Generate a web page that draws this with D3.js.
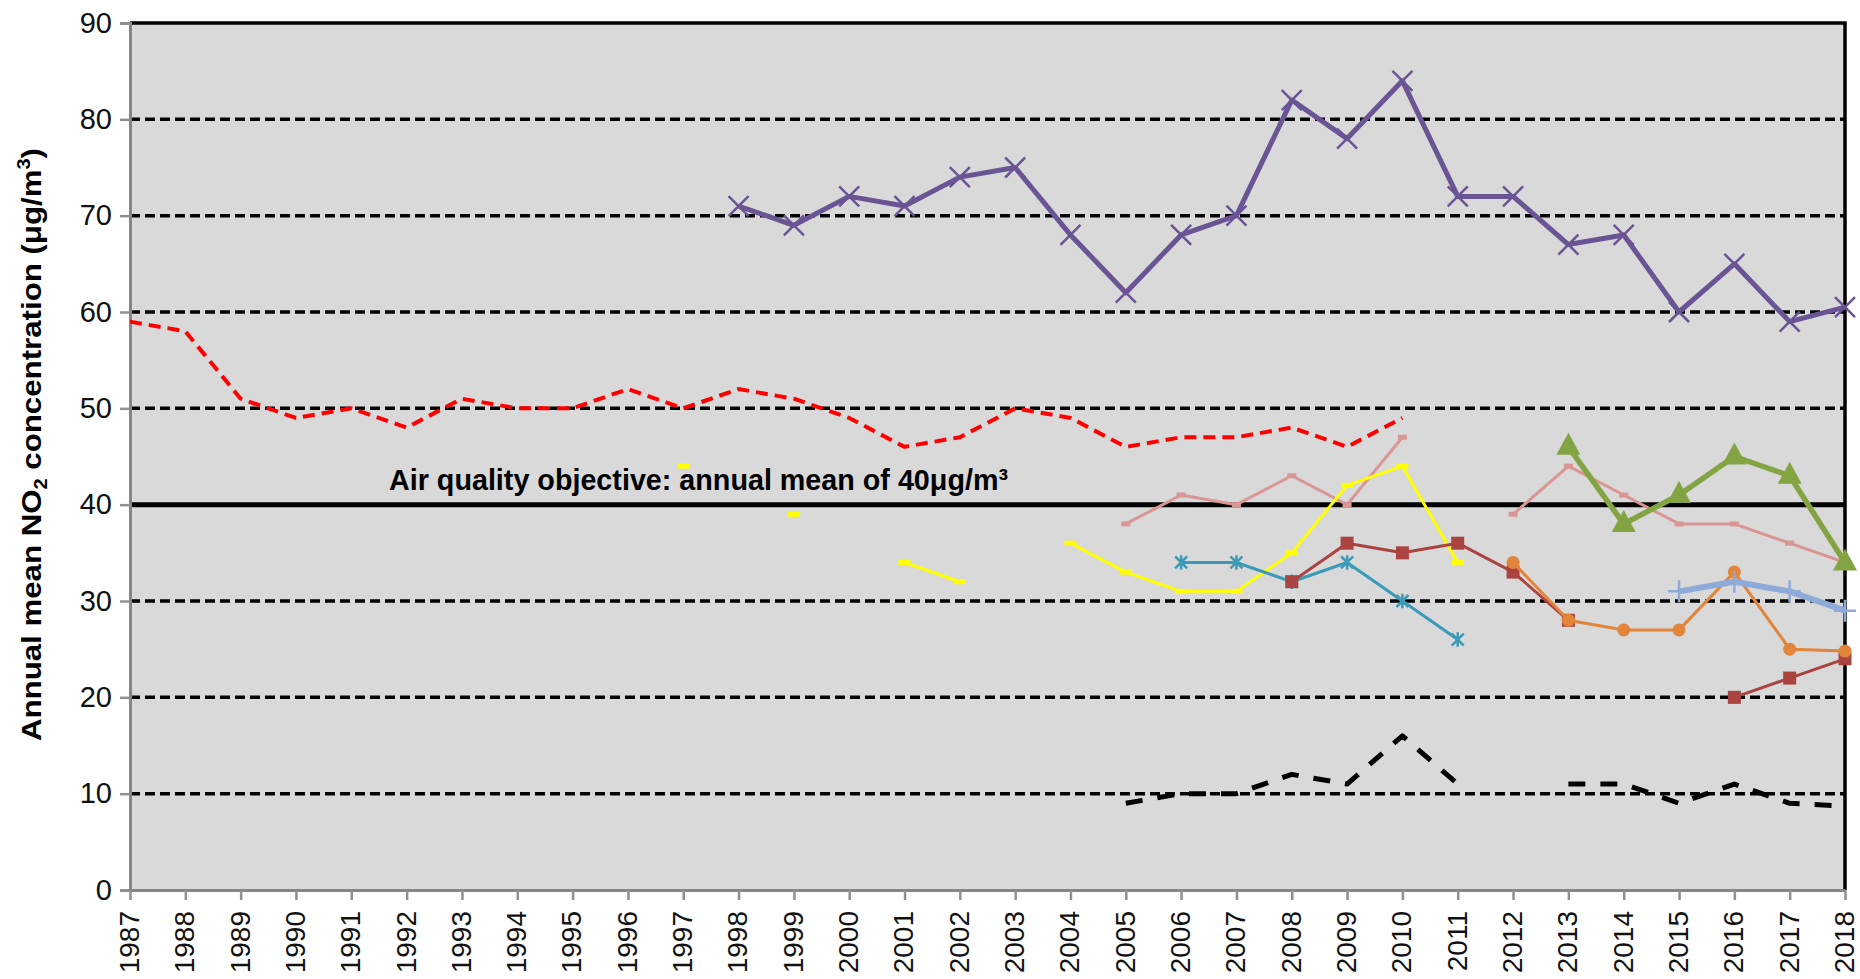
<!DOCTYPE html>
<html>
<head>
<meta charset="utf-8">
<script src="https://cdn.jsdelivr.net/npm/d3@7"></script>
<style>
  html, body { margin: 0; padding: 0; background: #fff; }
  svg { display: block; font-family: "Liberation Sans", Arial, sans-serif; }
</style>
</head>
<body>
<div id="graf"></div>
<script>
// years on the x axis
const years = [1987, 1988, 1989, 1990, 1991, 1992, 1993, 1994, 1995, 1996, 1997, 1998, 1999, 2000, 2001, 2002,
  2003, 2004, 2005, 2006, 2007, 2008, 2009, 2010, 2011, 2012, 2013, 2014, 2015, 2016, 2017, 2018]
const yTicks = [0, 10, 20, 30, 40, 50, 60, 70, 80, 90]
const objective = 40
const objectiveLabel = "Air quality objective: annual mean of 40μg/m³"

// one value per year, null = no measurement
const redDashed = [59, 58, 51, 49, 50, 48, 51, 50, 50, 52, 50, 52, 51, 49, 46, 47, 50, 49, 46, 47, 47, 48, 46, 49,
  null, null, null, null, null, null, null, null]
const purple = [null, null, null, null, null, null, null, null, null, null, null,
  71, 69, 72, 71, 74, 75, 68, 62, 68, 70, 82, 78, 84, 72, 72, 67, 68, 60, 65, 59, 60.5]
const yellow = [null, null, null, null, null, null, null, null, null, null,
  44, null, 39, null, 34, 32, null, 36, 33, 31, 31, 35, 42, 44, 34,
  null, null, null, null, null, null, null]
const pink = [null, null, null, null, null, null, null, null, null, null, null, null, null, null, null, null, null, null,
  38, 41, 40, 43, 40, 47, null, 39, 44, 41, 38, 38, 36, 34]
const teal = [null, null, null, null, null, null, null, null, null, null, null, null, null, null, null, null, null, null, null,
  34, 34, 32, 34, 30, 26, null, null, null, null, null, null, null]
const darkRed = [null, null, null, null, null, null, null, null, null, null, null, null, null, null, null, null, null, null, null, null, null,
  32, 36, 35, 36, 33, 28, null, null, 20, 22, 24]
const orange = [null, null, null, null, null, null, null, null, null, null, null, null, null, null, null, null, null, null, null, null, null, null, null, null, null,
  34, 28, 27, 27, 33, 25, 24.8]
const green = [null, null, null, null, null, null, null, null, null, null, null, null, null, null, null, null, null, null, null, null, null, null, null, null, null, null,
  46, 38, 41, 45, 43, 34]
const lightBlue = [null, null, null, null, null, null, null, null, null, null, null, null, null, null, null, null, null, null, null, null, null, null, null, null, null, null, null, null,
  31, 32, 31, 29]
const blackDashed = [null, null, null, null, null, null, null, null, null, null, null, null, null, null, null, null, null, null,
  9, 10, 10, 12, 11, 16, 11, null, 11, 11, 9, 11, 9, 8.7]

const width = 1860
const height = 979
const margin = ({top: 23, right: 15, bottom: 89, left: 130})

const x = d3.scaleLinear()
    .domain([d3.min(years), d3.max(years)])
    .range([margin.left, width - margin.right])

const y = d3.scaleLinear()
    .domain([0, 90])
    .range([height - margin.bottom, margin.top])

// marker shapes
const markX = s => `M${-s},${-s}L${s},${s}M${-s},${s}L${s},${-s}`
const markPlus = s => `M${-s},0L${s},0M0,${-s}L0,${s}`
const markStar = s => `M${-s},${-s}L${s},${s}M${-s},${s}L${s},${-s}M0,${-s * 1.2}L0,${s * 1.2}`

const series = [
  {values: redDashed, color: "#ff0000", width: 4, dash: "12,7"},
  {values: pink, color: "#d99694", width: 3, marker: "dash", mw: 9, mh: 5},
  {values: yellow, color: "#ffff00", width: 3, marker: "dash", mw: 12, mh: 5},
  {values: teal, color: "#3a9ab8", width: 3, marker: "star"},
  {values: darkRed, color: "#ab4340", width: 3, marker: "square"},
  {values: orange, color: "#e2843a", width: 3, marker: "circle"},
  {values: green, color: "#83a442", width: 5.5, marker: "triangle"},
  {values: lightBlue, color: "#8eaad8", width: 6, marker: "plus"},
  {values: blackDashed, color: "#000000", width: 5, dash: "17,15"},
  {values: purple, color: "#6a5494", width: 5, marker: "x"}
]

const svg = d3.select("#graf").append("svg")
    .attr("width", width)
    .attr("height", height)

// plot area
svg.append("rect")
    .attr("x", x.range()[0])
    .attr("y", y(90))
    .attr("width", x.range()[1] - x.range()[0])
    .attr("height", y(0) - y(90))
    .attr("fill", "#d9d9d9")

// grid lines
svg.append("g")
  .selectAll("line")
  .data(yTicks.filter(d => d > 0 && d < 90 && d != objective))
  .join("line")
    .attr("x1", x.range()[0])
    .attr("x2", x.range()[1])
    .attr("y1", d => y(d))
    .attr("y2", d => y(d))
    .attr("stroke", "#000")
    .attr("stroke-width", 3.5)
    .attr("stroke-dasharray", "10,5")

// objective line
svg.append("line")
    .attr("x1", x.range()[0])
    .attr("x2", x.range()[1])
    .attr("y1", y(objective))
    .attr("y2", y(objective))
    .attr("stroke", "#000")
    .attr("stroke-width", 5)

// top + right border
svg.append("path")
    .attr("fill", "none")
    .attr("stroke", "#000")
    .attr("stroke-width", 3.5)
    .attr("d", `M${x.range()[0]},${y(90)}H${x.range()[1]}V${y(0)}`)

// axes
const yAxis = g => g
    .attr("transform", `translate(${margin.left},0)`)
    .call(d3.axisLeft(y).tickValues(yTicks).tickSize(10).tickPadding(8))
    .call(g => g.select(".domain").attr("stroke", "#868686").attr("stroke-width", 3))
    .call(g => g.selectAll(".tick line").attr("stroke", "#909090").attr("stroke-width", 2.5))
    .call(g => g.selectAll(".tick text").attr("font-size", 29).attr("fill", "#111"))

const xAxis = g => g
    .attr("transform", `translate(0,${height - margin.bottom})`)
    .call(d3.axisBottom(x).tickValues(years).tickFormat(d3.format("d")).tickSize(10).tickSizeOuter(0))
    .call(g => g.select(".domain").attr("stroke", "#868686").attr("stroke-width", 3))
    .call(g => g.selectAll(".tick line").attr("stroke", "#909090").attr("stroke-width", 2.5))
    .call(g => g.selectAll(".tick text")
        .attr("font-size", 28)
        .attr("fill", "#111")
        .attr("transform", "rotate(-90)")
        .attr("text-anchor", "end")
        .attr("x", -21)
        .attr("y", 0)
        .attr("dy", "0.3em"))

svg.append("g").call(yAxis)
svg.append("g").call(xAxis)

// series lines + markers
const line = d3.line()
    .defined(d => d.v != null)
    .x(d => x(d.year))
    .y(d => y(d.v))

series.forEach(s => {
  const pts = years.map((year, i) => ({year, v: s.values[i]}))
  svg.append("path")
      .attr("fill", "none")
      .attr("stroke", s.color)
      .attr("stroke-width", s.width)
      .attr("stroke-linejoin", "round")
      .attr("stroke-dasharray", s.dash || null)
      .attr("d", line(pts))

  if (!s.marker) return
  const g = svg.append("g")
    .selectAll("g")
    .data(pts.filter(d => d.v != null))
    .join("g")
      .attr("transform", d => `translate(${x(d.year)},${y(d.v)})`)

  if (s.marker == "dash") {
    g.append("rect").attr("x", -s.mw / 2).attr("y", -s.mh / 2)
        .attr("width", s.mw).attr("height", s.mh).attr("fill", s.color)
  } else if (s.marker == "square") {
    g.append("rect").attr("x", -6.5).attr("y", -6.5)
        .attr("width", 13).attr("height", 13).attr("fill", s.color)
  } else if (s.marker == "circle") {
    g.append("circle").attr("r", 6.5).attr("fill", s.color)
  } else if (s.marker == "triangle") {
    g.append("path").attr("d", "M0,-14L12,8L-12,8Z").attr("fill", s.color)
  } else {
    const shape = s.marker == "x" ? markX(10) : s.marker == "plus" ? markPlus(11) : markStar(6)
    g.append("path").attr("d", shape).attr("fill", "none")
        .attr("stroke", s.color).attr("stroke-width", 2.5)
  }
})

// objective annotation
svg.append("text")
    .attr("x", 389)
    .attr("y", 490)
    .attr("font-family", "'Liberation Sans Narrow', 'Arial Narrow', 'Liberation Sans', Arial, sans-serif")
    .attr("font-weight", "bold")
    .attr("font-size", 30)
    .attr("textLength", 619)
    .attr("lengthAdjust", "spacingAndGlyphs")
    .attr("fill", "#000")
    .text(objectiveLabel)

// y axis title
const title = svg.append("text")
    .attr("transform", `translate(41,${(148 + 741) / 2}) rotate(-90)`)
    .attr("text-anchor", "middle")
    .attr("font-weight", "bold")
    .attr("font-size", 28)
    .attr("textLength", 593)
    .attr("lengthAdjust", "spacingAndGlyphs")
    .attr("fill", "#000")
title.append("tspan").text("Annual mean NO")
title.append("tspan").attr("font-size", 18).attr("dy", 6).text("2")
title.append("tspan").attr("dy", -6).text(" concentration (μg/m")
title.append("tspan").attr("font-size", 18).attr("dy", -11).text("3")
title.append("tspan").attr("dy", 11).text(")")
</script>
</body>
</html>
